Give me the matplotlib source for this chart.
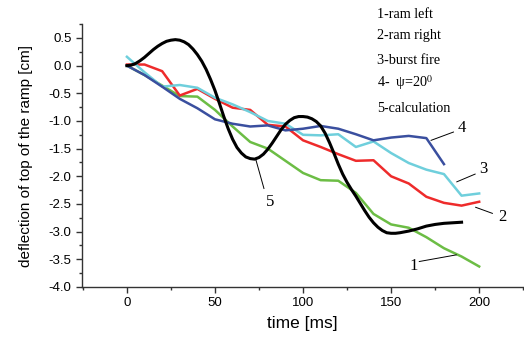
"""Ramp deflection vs time."""
import matplotlib
matplotlib.use("Agg")
import matplotlib.pyplot as plt
from matplotlib.ticker import MultipleLocator, FormatStrFormatter

# measured series, sampled every 10 ms
t_meas = [0, 10, 20, 30, 40, 50, 60, 70, 80, 90, 100, 110, 120, 130, 140, 150, 160, 170, 180, 190, 200]
ram_left = [0.0, -0.17, -0.36, -0.55, -0.56, -0.8, -1.1, -1.38, -1.5, -1.72, -1.94,
            -2.07, -2.08, -2.3, -2.68, -2.87, -2.93, -3.1, -3.3, -3.45, -3.63]
ram_right = [0.02, 0.02, -0.1, -0.54, -0.42, -0.6, -0.76, -0.8, -1.07, -1.1, -1.35,
             -1.47, -1.6, -1.72, -1.71, -2.0, -2.13, -2.37, -2.48, -2.53, -2.46]
burst_fire = [0.16, -0.12, -0.38, -0.35, -0.4, -0.58, -0.7, -0.84, -1.0, -1.05, -1.25,
              -1.26, -1.24, -1.47, -1.37, -1.58, -1.76, -1.88, -1.96, -2.35, -2.31]
t_psi = [0, 10, 20, 30, 40, 50, 60, 70, 80, 90, 100, 110, 120, 130, 140, 150, 160, 170, 180]
psi_20 = [0.0, -0.17, -0.38, -0.6, -0.77, -0.97, -1.05, -1.1, -1.08, -1.17, -1.14,
          -1.09, -1.14, -1.24, -1.35, -1.3, -1.27, -1.31, -1.78]

# calculated curve, read every 2.5 ms
t_calc = [0, 2.5, 5, 7.5, 10, 12.5, 15, 17.5, 20, 22.5, 25, 27.5, 30, 32.5, 35, 37.5,
          40, 42.5, 45, 47.5, 50, 52.5, 55, 57.5, 60, 62.5, 65, 67.5, 70, 72.5, 75,
          77.5, 80, 82.5, 85, 87.5, 90, 92.5, 95, 97.5, 100, 102.5, 105, 107.5, 110,
          112.5, 115, 117.5, 120, 122.5, 125, 127.5, 130, 132.5, 135, 137.5, 140,
          142.5, 145, 147.5, 150, 152.5, 155, 160, 165, 170, 175, 180, 185, 190]
calc = [0.0, 0.01, 0.04, 0.09, 0.15, 0.22, 0.29, 0.35, 0.4, 0.44, 0.46, 0.47, 0.46,
        0.43, 0.38, 0.3, 0.2, 0.08, -0.07, -0.25, -0.45, -0.68, -0.92, -1.14, -1.33,
        -1.48, -1.58, -1.65, -1.68, -1.69, -1.66, -1.6, -1.51, -1.4, -1.28, -1.16,
        -1.06, -0.99, -0.94, -0.92, -0.92, -0.93, -0.96, -1.01, -1.09, -1.22, -1.39,
        -1.58, -1.78, -1.96, -2.11, -2.24, -2.36, -2.49, -2.62, -2.74, -2.84, -2.92,
        -2.98, -3.02, -3.03, -3.03, -3.02, -2.99, -2.95, -2.9, -2.87, -2.85, -2.84, -2.83]

legend_lines = ["1-ram left", "2-ram right", "3-burst fire", r"4-  ψ=20$^{0}$", "5-calculation"]

plt.rcParams["mathtext.fontset"] = "stix"

fig = plt.figure(figsize=(5.24, 3.4), dpi=100)
ax = fig.add_axes([0.1565, 0.156, 0.842, 0.773])

ax.plot(t_meas, ram_left, color="#6cbd45", lw=1.8)
ax.plot(t_meas, ram_right, color="#ee2b2b", lw=1.8)
ax.plot(t_meas, burst_fire, color="#6fcfdc", lw=1.8)
ax.plot(t_psi, psi_20, color="#3a4f9f", lw=1.8)
ax.plot(t_calc, calc, color="black", lw=2.2)

# curve labels with leader lines
serif = "Liberation Serif"
labels = [("1", (187, -3.42), (166, -3.54), (160.5, -3.62)),
          ("2", (198, -2.56), (207.5, -2.67), (211, -2.74)),
          ("3", (187.3, -2.1), (197.7, -1.96), (200, -1.86)),
          ("4", (172.7, -1.35), (185.4, -1.2), (187.5, -1.13)),
          ("5", (73.3, -1.71), (77.8, -2.22), (79, -2.47))]
for txt, p0, p1, pt in labels:
    ax.plot([p0[0], p1[0]], [p0[1], p1[1]], color="black", lw=0.7)
    ax.text(pt[0], pt[1], txt, family=serif, fontsize=12, ha="left", va="center")

# legend block
for s, py in zip(legend_lines, [14, 36, 61, 83, 108]):
    fig.text(377 / 524, 1 - py / 340, s, family=serif, fontsize=10.2, va="center", ha="left")

ax.set_xlim(-25.5, 225)
ax.set_ylim(-4.0, 0.75)
ax.xaxis.set_major_locator(MultipleLocator(50))
ax.xaxis.set_minor_locator(MultipleLocator(25))
ax.yaxis.set_major_locator(MultipleLocator(0.5))
ax.yaxis.set_minor_locator(MultipleLocator(0.25))
ax.yaxis.set_major_formatter(FormatStrFormatter("%.1f"))
ax.spines["top"].set_visible(False)
ax.spines["right"].set_visible(False)
for sp in ("left", "bottom"):
    ax.spines[sp].set_color("#333333")
    ax.spines[sp].set_linewidth(1.0)
ax.tick_params(which="major", length=4, width=1, color="#333333",
               labelsize=9.5, labelfontfamily="Liberation Sans")
ax.tick_params(which="minor", length=2.5, width=1, color="#333333")

ax.set_xlabel("time [ms]", family="Liberation Sans", fontsize=12.5, labelpad=5)
ax.set_ylabel("deflection of top of the ramp [cm]", family="Liberation Sans", fontsize=11, labelpad=11)

fig.savefig("out.png", dpi=100)
